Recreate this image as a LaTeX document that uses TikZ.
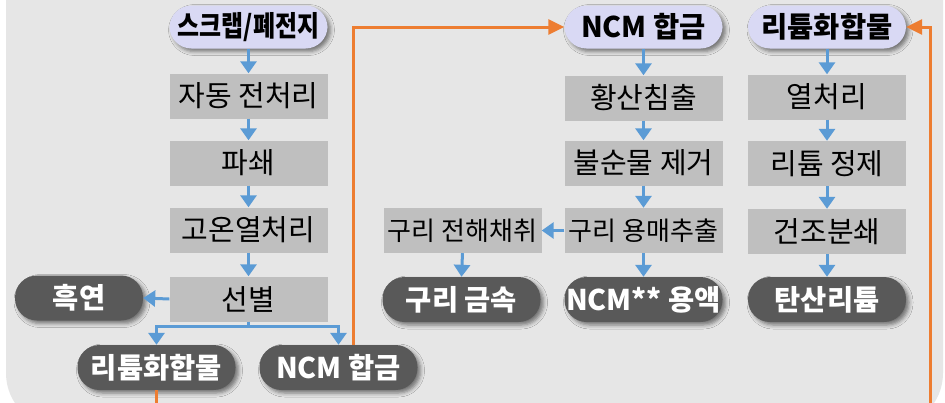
\documentclass[tikz,border=0pt]{standalone}
\usepackage{fontspec}
\setmainfont{Noto Sans CJK KR}
\usepackage{graphicx}
\usetikzlibrary{arrows.meta,shadows.blur}
\definecolor{panel}{HTML}{E6E6E6}
\definecolor{boxgray}{HTML}{BFBFBF}
\definecolor{darkpill}{HTML}{595959}
\definecolor{lav}{HTML}{D9D9F4}
\definecolor{flowblue}{HTML}{5B9BD5}
\definecolor{flowor}{HTML}{ED7D31}
\begin{document}
\begin{tikzpicture}[x=1pt,y=-1pt,
 procbox/.style={fill=boxgray, minimum width=158pt, minimum height=45pt, inner sep=0pt, font=\fontsize{29}{32}\selectfont},
 smallbox/.style={procbox, font=\fontsize{26}{30}\selectfont},
 darkp/.style={fill=darkpill, text=white, rounded corners=22pt, minimum width=158pt, minimum height=45pt, inner sep=0pt, font=\bfseries\fontsize{28.5}{32}\selectfont, blur shadow={shadow xshift=3pt, shadow yshift=-3pt, shadow blur radius=4pt, shadow opacity=50}},
 lavp/.style={darkp, fill=lav, text=black, minimum height=43pt},
 blueline/.style={draw=flowblue, line width=3pt},
 barrow/.style={blueline, -{Triangle[width=16pt,length=12pt]}},
 oline/.style={draw=flowor, line width=3pt},
 oarrow/.style={oline, -{Triangle[width=15pt,length=16pt]}}
]
\useasboundingbox (0,0) rectangle (945,402);
\clip (0,0) rectangle (945,402);
\fill[white] (0,0) rectangle (945,402);
\fill[panel, rounded corners=55pt] (6,-80) rectangle (943,428);

% left column
\node[lavp] (scrap) at (248.5,27) {\scalebox{0.84}[1]{스크랩/폐전지}};
\node[procbox] (auto) at (248.5,96) {자동 전처리};
\node[procbox] (crush) at (248.5,163) {파쇄};
\node[procbox] (heat) at (248.5,230) {고온열처리};
\node[procbox] (sort) at (248.5,299) {선별};
\node[darkp, minimum width=128pt] (graph) at (79,298) {흑연};
\node[darkp] (litB) at (156.5,367.5) {리튬화합물};
\node[darkp] (ncmB) at (338.5,367.5) {NCM 합금};

% middle column
\node[lavp] (ncmT) at (643.5,27) {NCM 합금};
\node[procbox] (leach) at (643.5,98) {황산침출};
\node[procbox] (impur) at (643.5,163) {불순물 제거};
\node[smallbox] (cuext) at (643.5,230.5) {구리 용매추출};
\node[smallbox] (cuew) at (462.5,230.5) {구리 전해채취};
\node[darkp] (cumet) at (461.5,299.5) {구리 금속};
\node[darkp] (ncmsol) at (643.5,299.5) {NCM** 용액};

% right column
\node[lavp] (litT) at (827,27) {리튬화합물};
\node[procbox] (heat2) at (827,97) {열처리};
\node[procbox] (lipur) at (827,163.5) {리튬 정제};
\node[procbox] (dry) at (827,231.5) {건조분쇄};
\node[darkp] (li2co3) at (827,299.5) {탄산리튬};

% blue arrows
\draw[barrow] (scrap.south) -- (auto.north);
\draw[barrow] (auto.south) -- (crush.north);
\draw[barrow] (crush.south) -- (heat.north);
\draw[barrow] (heat.south) -- (sort.north);
\draw[barrow] (sort.west) -- (graph.east);
\draw[blueline] (sort.south) -- ++(0,5) coordinate (sp);
\draw[barrow] (sp) -| (litB.north);
\draw[barrow] (sp) -| (ncmB.north);

\draw[barrow] (ncmT.south) -- (leach.north);
\draw[barrow] (leach.south) -- (impur.north);
\draw[barrow] (impur.south) -- (cuext.north);
\draw[barrow] (cuext.west) -- (cuew.east);
\draw[barrow] (cuew.south) -- (cumet.north);
\draw[barrow] (cuext.south) -- (ncmsol.north);

\draw[barrow] (litT.south) -- (heat2.north);
\draw[barrow] (heat2.south) -- (lipur.north);
\draw[barrow] (lipur.south) -- (dry.north);
\draw[barrow] (dry.south) -- (li2co3.north);

% orange return lines
\draw[oarrow] ([xshift=15pt]ncmB.north) |- (ncmT.west);
\coordinate (oc) at (930,420);
\draw[oarrow] (litB.south) |- (oc) |- (litT.east);
\end{tikzpicture}
\end{document}
